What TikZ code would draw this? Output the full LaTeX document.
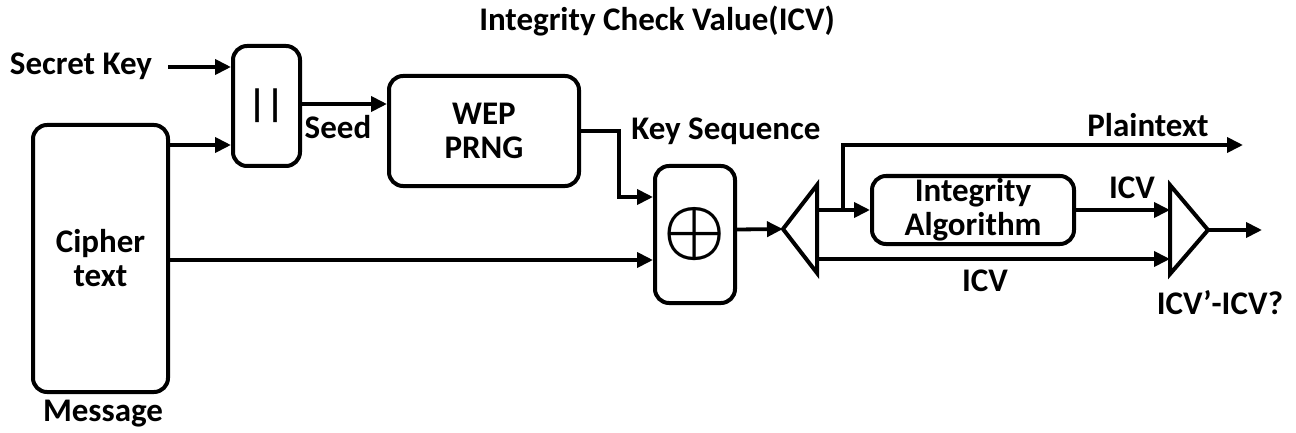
\documentclass[tikz,border=0pt]{standalone}
\usepackage{amsmath,bm}
\usepackage{fontspec}
\setmainfont{Carlito}
\usetikzlibrary{arrows.meta}
\begin{document}
\begin{tikzpicture}[x=1pt,y=-1pt,
  box/.style={draw,line width=4pt,rounded corners=14pt,align=center,inner sep=0pt,
              font=\bfseries\fontsize{33}{34}\selectfont},
  conn/.style={line width=3.8pt,-{Triangle[length=16pt,width=15pt]}},
  tri/.style={line width=4pt,line join=miter},
  lbl/.style={font=\bfseries\fontsize{33}{34}\selectfont,inner sep=0pt}]
\useasboundingbox (0,0) rectangle (1296,433);

% blocks
\node[box,minimum width=135pt,minimum height=267pt] (cipher) at (100.5,258.5) {Cipher\\text};
\node[box,minimum width=67pt,minimum height=120pt,font=\bfseries\fontsize{38}{40}\selectfont] (concat) at (266.5,106) {||};
\node[box,minimum width=190pt,minimum height=110pt] (prng) at (484,131) {WEP\\PRNG};
\node[box,minimum width=80pt,minimum height=137pt] (xor) at (695,234.5) {\scalebox{2.8}{$\bm{\oplus}$}};
\node[box,minimum width=202pt,minimum height=68pt] (integ) at (973,210) {Integrity\\Algorithm};

% triangles
\coordinate (t1tip) at (783,229);
\coordinate (t1top) at (817,185);
\coordinate (t1bot) at (817,273);
\draw[tri] (t1tip) -- (t1top) -- (t1bot) -- cycle;
\coordinate (t2top) at (1170,185);
\coordinate (t2bot) at (1170,274);
\coordinate (t2tip) at (1208,230);
\draw[tri] (t2top) -- (t2tip) -- (t2bot) -- cycle;

% labels
\node[lbl] (title) at (657,21) {Integrity Check Value(ICV)};
\node[lbl] (sk) at (81,66) {Secret Key};
\node[lbl] (seed) at (338,127) {Seed};
\node[lbl] (ks) at (726,131) {Key Sequence};
\node[lbl] (pt) at (1148,125) {Plaintext};
\node[lbl] (icv1) at (1132,188) {ICV};
\node[lbl] (icv2) at (985,281) {ICV};
\node[lbl] (cmp) at (1220,303) {ICV’-ICV?};
\node[lbl] (msg) at (103,414) {Message};

% connectors
\draw[conn] ([xshift=16pt,yshift=-1pt]sk.east) -- ([yshift=-1pt]sk.east -| concat.west);
\draw[conn] ([yshift=-22pt]cipher.north east) -- ([yshift=-22pt]cipher.north east -| concat.west);
\draw[conn] ([yshift=2pt]concat.east) -- ([yshift=2pt]concat.east -| prng.west);
\draw[conn] (prng.east) -- ++(38,0) |- ([yshift=37.5pt]xor.west);
\draw[conn] ([yshift=-1.5pt]cipher.east) -- ([yshift=-1.5pt]cipher.east -| xor.west);
\draw[conn] ([yshift=5pt]xor.east) -- (t1tip);
\draw[conn] (t1top |- integ.west) -- (integ.west);
\coordinate (br) at (843,210);
\coordinate (ptend) at (1243,145);
\draw[conn] (br) |- (ptend);
\draw[conn] (integ.east) -- (integ.east -| t2top);
\coordinate (b1) at (817,259);
\draw[conn] (b1) -- (b1 -| t2top);
\coordinate (out) at (1262,230);
\draw[conn] (t2tip) -- (out);
\end{tikzpicture}
\end{document}
